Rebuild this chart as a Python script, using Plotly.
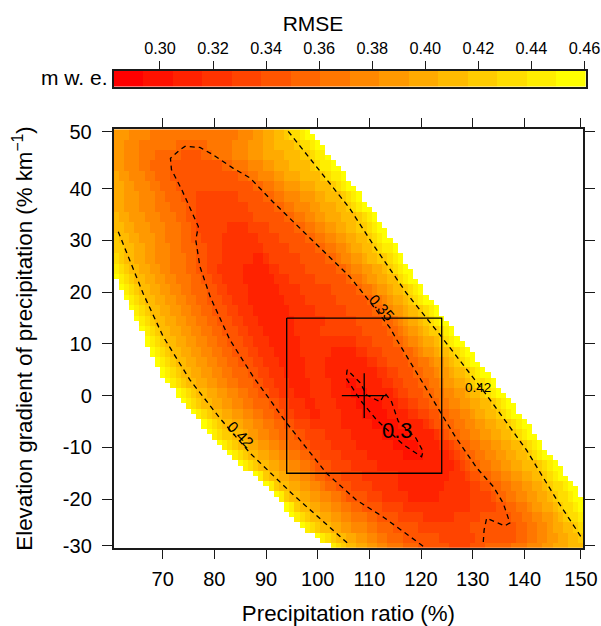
import plotly.graph_objects as go

W, H = 601, 626
RMSE_LOW, RMSE_HIGH, N_BANDS = 0.2826, 0.4605, 16
band_width = (RMSE_HIGH - RMSE_LOW) / N_BANDS

precip_ratio = list(range(61, 152))
elev_gradient = list(range(51, -30, -1))

# first and last sampled precipitation ratio in every gradient row (51 ... -29)
row_first_x = [61] * 29 + [62, 62, 63, 63, 64, 64, 65, 65, 66, 66, 67, 67, 67, 68, 68, 69, 69, 70, 70, 71, 72, 73, 73,
                           74, 75, 76, 77, 78, 78, 79, 80, 81, 82, 83, 84, 85, 86, 88, 89, 90, 91, 92, 93, 94, 94, 95,
                           96, 97, 98, 100, 101, 103]
row_last_x = [98, 99, 100, 101, 101, 102, 103, 104, 105, 105, 106, 107, 108, 108, 109, 110, 111, 111, 112, 113, 113,
              114, 115, 115, 116, 116, 117, 118, 118, 119, 120, 120, 121, 122, 123, 123, 124, 125, 126, 126, 127, 128,
              129, 130, 130, 131, 132, 133, 134, 134, 135, 136, 137, 138, 138, 139, 140, 141, 141, 142, 143, 143,
              144, 145, 146, 147, 147, 148, 149, 150, 150, 151] + [151] * 9

# colour band read along each second gradient row, 51, 49, ... -29:
# the band at the row's left end, x where it drops one band, x where it rises one band
band_start = [10, 10, 10, 10, 11, 11, 11, 11, 12, 12, 13, 13, 14, 15, 16, 16, 16, 16, 16, 16, 16, 16, 16, 16, 16, 16,
              16, 16, 16, 16, 16, 16, 16, 16, 16, 16, 16, 16, 16, 16, 15]
band_drops = [
    [64, 68],
    [63, 66, 73],
    [63, 66, 69, 74],
    [63, 66, 68, 72],
    [62, 64, 67, 69, 72],
    [63, 65, 68, 70, 73],
    [63, 66, 69, 71, 74, 77],
    [63, 66, 69, 72, 75, 77],
    [62, 64, 67, 70, 73, 75, 77],
    [63, 65, 68, 71, 74, 76, 77, 83],
    [62, 64, 66, 69, 71, 74, 76, 78, 82],
    [63, 65, 67, 69, 72, 74, 77, 79, 82],
    [62, 63, 65, 67, 69, 72, 75, 77, 79, 82, 88],
    [62, 63, 64, 66, 68, 70, 72, 75, 77, 79, 81, 86],
    [62, 63, 64, 65, 67, 69, 71, 73, 76, 78, 80, 82, 86],
    [63, 64, 65, 66, 68, 70, 72, 74, 76, 79, 81, 83, 87],
    [64, 65, 66, 67, 69, 71, 73, 75, 77, 79, 82, 84, 87],
    [65, 66, 67, 68, 70, 72, 74, 76, 78, 80, 83, 85, 88],
    [66, 67, 68, 69, 71, 73, 75, 77, 79, 81, 84, 86, 89],
    [67, 68, 69, 70, 72, 74, 76, 78, 80, 82, 85, 87, 90],
    [68, 69, 70, 71, 73, 75, 77, 79, 81, 83, 86, 88, 91],
    [69, 70, 71, 72, 74, 76, 78, 80, 82, 84, 87, 89, 92, 103],
    [70, 71, 72, 73, 75, 77, 79, 81, 83, 85, 88, 90, 93, 102],
    [71, 72, 73, 74, 76, 78, 80, 82, 84, 87, 89, 91, 94, 102],
    [72, 73, 74, 75, 77, 79, 81, 83, 85, 88, 90, 92, 95, 103, 106],
    [74, 75, 76, 77, 79, 81, 83, 85, 87, 89, 91, 93, 96, 103, 107],
    [75, 76, 77, 78, 80, 82, 84, 86, 88, 91, 93, 95, 98, 104, 108],
    [77, 78, 79, 80, 82, 84, 86, 88, 90, 92, 94, 96, 99, 105, 109],
    [79, 80, 81, 82, 84, 86, 88, 90, 92, 94, 96, 99, 105, 111],
    [80, 81, 82, 84, 86, 87, 89, 91, 93, 96, 98, 102, 107, 113],
    [82, 83, 84, 85, 87, 89, 91, 93, 95, 97, 99, 103, 108, 115],
    [84, 85, 86, 87, 89, 91, 93, 95, 97, 99, 101, 105, 110, 117],
    [86, 87, 88, 89, 91, 93, 95, 97, 99, 100, 103, 107, 112],
    [89, 90, 90, 91, 93, 95, 97, 99, 100, 102, 105, 109, 116],
    [91, 92, 92, 93, 95, 97, 99, 101, 102, 104, 107, 111, 116],
    [93, 94, 94, 95, 97, 99, 101, 103, 105, 106, 110, 113, 118],
    [95, 96, 96, 97, 99, 101, 103, 105, 107, 109, 113, 117],
    [96, 97, 98, 99, 101, 103, 105, 107, 110, 112, 116, 121],
    [98, 99, 100, 101, 103, 105, 107, 110, 112, 115, 120],
    [101, 102, 103, 104, 106, 108, 110, 112, 114, 117, 124],
    [104, 105, 106, 108, 110, 112, 114, 117, 120, 126],
]
band_rises = [
    [85, 88, 90, 92, 94, 95, 97, 98],
    [79, 84, 87, 90, 92, 96, 97, 99, 100],
    [78, 80, 84, 87, 90, 94, 97, 99, 100, 102],
    [82, 84, 87, 90, 92, 95, 99, 100, 101, 103],
    [85, 87, 89, 92, 94, 97, 101, 102, 103, 105],
    [88, 90, 92, 94, 97, 100, 103, 104, 105, 106],
    [85, 90, 92, 94, 97, 100, 102, 105, 106, 107, 108],
    [87, 92, 94, 96, 99, 101, 104, 106, 107, 108, 109],
    [88, 94, 96, 98, 100, 102, 105, 108, 109, 110, 111],
    [87, 91, 96, 98, 100, 102, 104, 106, 108, 110, 111, 112],
    [89, 93, 98, 100, 102, 104, 106, 108, 110, 111, 112, 113],
    [90, 95, 100, 102, 104, 106, 107, 109, 111, 112, 113, 115],
    [90, 91, 97, 102, 104, 105, 107, 109, 110, 112, 114, 115, 116],
    [91, 93, 98, 104, 106, 107, 109, 111, 113, 114, 115, 116, 117],
    [92, 95, 100, 106, 107, 109, 110, 112, 114, 116, 116, 117, 118],
    [93, 97, 103, 108, 109, 111, 112, 114, 115, 117, 118, 119, 120],
    [94, 98, 104, 110, 111, 113, 114, 115, 117, 118, 119, 120, 121],
    [95, 100, 106, 111, 113, 114, 115, 117, 118, 120, 121, 122, 123],
    [96, 102, 108, 113, 115, 116, 117, 118, 120, 121, 122, 123, 124],
    [96, 101, 109, 114, 116, 117, 118, 120, 121, 122, 124, 125, 126],
    [97, 108, 111, 115, 117, 118, 120, 121, 123, 124, 125, 126, 127],
    [97, 108, 110, 113, 117, 119, 120, 121, 123, 124, 126, 127, 128, 129],
    [98, 110, 112, 114, 118, 120, 122, 123, 125, 126, 127, 128, 129, 130],
    [98, 112, 114, 116, 119, 121, 123, 124, 126, 127, 129, 130, 131, 132],
    [99, 108, 113, 115, 117, 120, 122, 124, 125, 127, 129, 130, 131, 133, 134],
    [99, 110, 115, 116, 118, 121, 123, 125, 127, 129, 130, 132, 133, 134, 135],
    [100, 113, 116, 118, 120, 122, 124, 126, 128, 130, 132, 134, 135, 136, 137],
    [101, 114, 118, 120, 122, 124, 126, 128, 130, 131, 133, 135, 136, 137, 138],
    [116, 121, 122, 123, 125, 127, 129, 131, 133, 135, 137, 138, 139, 140],
    [118, 123, 124, 125, 126, 128, 130, 132, 134, 136, 138, 139, 140, 141],
    [120, 124, 126, 127, 128, 130, 132, 134, 136, 138, 140, 141, 142, 143],
    [121, 126, 127, 128, 129, 131, 133, 135, 137, 139, 141, 142, 143, 144],
    [127, 128, 129, 130, 132, 134, 136, 138, 140, 143, 144, 145, 146],
    [126, 129, 130, 132, 134, 136, 138, 140, 142, 144, 145, 146, 147],
    [125, 130, 132, 134, 136, 138, 140, 142, 144, 145, 146, 148, 149],
    [124, 130, 134, 135, 137, 139, 141, 143, 145, 146, 147, 149, 150],
    [130, 135, 137, 139, 141, 142, 144, 146, 147, 148, 150, 151],
    [127, 132, 138, 140, 142, 144, 146, 147, 148, 149, 151],
    [130, 139, 141, 143, 145, 146, 148, 150, 151],
    [131, 139, 141, 143, 145, 147, 149, 151],
    [130, 133, 138, 141, 144, 146, 149],
]

# dashed contours as (ratio, gradient)
c030_x = [105.7, 105.5, 108.2, 111.4, 116.6, 120.1, 120.4, 119.0, 115.6, 114.3, 113.0, 112.1, 109.5, 108.2, 105.7]
c030_y = [5.0, 3.4, -0.8, -4.7, -9.5, -11.8, -10.8, -8.2, -5.0, -1.2, 0.5, -1.2, 0.1, 2.5, 5.0]
c035_x = [120.4, 112.6, 107.5, 101.7, 94.0, 87.5, 83.0, 79.2, 77.2, 76.4, 76.9, 73.7, 71.7, 71.5, 73.3, 74.3, 77.2,
          79.7, 83.6, 86.9, 91.3, 96.5, 102.9, 106.2, 109.5, 114.0, 115.3, 123.7, 126.6, 130.8, 134.0, 135.9, 137.2,
          136.2, 132.7, 132.2, 132.0]
c035_y = [-29.1, -23.4, -20.2, -15.0, -5.3, 3.7, 10.8, 19.1, 25.0, 30.1, 32.7, 39.8, 43.7, 45.9, 47.5, 48.2, 48.0,
          46.6, 44.0, 42.1, 37.5, 32.4, 26.2, 23.0, 18.9, 13.1, 10.8, -3.1, -7.9, -14.0, -17.6, -20.8, -24.6,
          -25.2, -23.7, -26.0, -28.9]
c042_low_x = [61.4, 63.3, 66.2, 70.1, 75.3, 81.1, 86.9, 95.3, 106.2]
c042_low_y = [31.7, 26.9, 19.8, 11.4, 3.0, -4.4, -11.1, -19.2, -28.9]
c042_up_x = [94.3, 101.1, 106.2, 110.8, 117.2, 123.7, 132.7, 140.4, 146.3, 151.1]
c042_up_y = [51.1, 42.7, 36.2, 29.1, 19.8, 11.7, 0.1, -10.5, -20.2, -27.5]

box_x = [94, 124, 124, 94, 94]
box_y = [15, 15, -15, -15, 15]
best_x = [109]
best_y = [0]

x_tick_vals = [70, 80, 90, 100, 110, 120, 130, 140, 150.95]
x_tick_text = ["70", "80", "90", "100", "110", "120", "130", "140", "150"]
y_tick_vals = [51.06, 40, 30, 20, 10, 0, -10, -20, -29.0]
y_tick_text = ["50", "40", "30", "20", "10", "0", "-10", "-20", "-30"]
bar_tick_vals = [0.30, 0.32, 0.34, 0.36, 0.38, 0.40, 0.42, 0.44, 0.46]
bar_tick_text = ["0.30", "0.32", "0.34", "0.36", "0.38", "0.40", "0.42", "0.44", "0.46"]

assert len(row_first_x) == 81 and len(row_last_x) == 81
assert len(band_start) == len(band_drops) == len(band_rises) == 41


def rmse(band):
    return RMSE_LOW + (band - 0.5) * band_width


z = []
for i, y in enumerate(elev_gradient):
    r = i // 2
    row = []
    for x in precip_ratio:
        if row_first_x[i] <= x <= row_last_x[i]:
            band = band_start[r] - sum(e <= x for e in band_drops[r]) + sum(e <= x for e in band_rises[r])
            row.append(rmse(max(1, min(16, band))))
        else:
            row.append(None)
    z.append(row)

scale = []
for k in range(N_BANDS):
    c = f"rgb(255,{round(255 * k / (N_BANDS - 1))},0)"
    scale += [[k / N_BANDS, c], [(k + 1) / N_BANDS, c]]

FONT = "Liberation Sans"
INK = "#1a1a1a"
dash = dict(color="black", width=1.3, dash="5px,4px")

fig = go.Figure()
fig.add_trace(go.Heatmap(x=precip_ratio, y=elev_gradient, z=z, colorscale=scale, zmin=RMSE_LOW, zmax=RMSE_HIGH,
                         showscale=False, hoverongaps=False))
for cx, cy in [(c030_x, c030_y), (c035_x, c035_y), (c042_low_x, c042_low_y), (c042_up_x, c042_up_y)]:
    fig.add_trace(go.Scatter(x=cx, y=cy, mode="lines", line=dash, showlegend=False))
fig.add_trace(go.Scatter(x=box_x, y=box_y, mode="lines", line=dict(color="black", width=1.3), showlegend=False))
fig.add_trace(go.Scatter(x=best_x, y=best_y, mode="markers", showlegend=False,
                         marker=dict(symbol="cross-thin", size=32, line=dict(color="black", width=1.3))))

bar_bands = list(range(1, N_BANDS + 1))
fig.add_trace(go.Heatmap(x=[rmse(b) for b in bar_bands], y=[0], z=[[rmse(b) for b in bar_bands]], colorscale=scale,
                         zmin=RMSE_LOW, zmax=RMSE_HIGH, showscale=False, xaxis="x2", yaxis="y2"))

fig.update_layout(
    width=W, height=H, margin=dict(l=0, r=0, t=0, b=0), autosize=False,
    paper_bgcolor="white", plot_bgcolor="white", showlegend=False,
    font=dict(family=FONT, color="black", size=16),
    title=dict(text="RMSE", x=313 / W, xanchor="center", y=1 - 24 / H, yanchor="middle", font=dict(size=21)),
    xaxis=dict(domain=[113.5 / W, 583.3 / W], range=[60.48, 151.4], showgrid=False, zeroline=False, automargin=False,
               showline=True, linecolor=INK, linewidth=1.5, mirror="ticks", ticks="outside", ticklen=10,
               tickwidth=1.3, tickcolor=INK, tickmode="array", tickvals=x_tick_vals, ticktext=x_tick_text,
               tickfont=dict(size=20), ticklabelstandoff=3,
               title=dict(text="Precipitation ratio (%)", font=dict(size=22.3), standoff=19)),
    yaxis=dict(domain=[1 - 547.7 / H, 1 - 129.3 / H], range=[-29.4, 51.5], showgrid=False, zeroline=False,
               automargin=False,
               showline=True, linecolor=INK, linewidth=1.5, mirror="ticks", ticks="outside", ticklen=10,
               tickwidth=1.3, tickcolor=INK, tickmode="array", tickvals=y_tick_vals, ticktext=y_tick_text,
               tickfont=dict(size=20), ticklabelstandoff=6,
               title=dict(text="Elevation gradient of precipitation (% km<sup>\u22121</sup>)", font=dict(size=22.3),
                          standoff=24)),
    xaxis2=dict(domain=[113.8 / W, 585.8 / W], range=[RMSE_LOW, RMSE_HIGH], anchor="y2", side="top",
                automargin=False,
                showgrid=False, zeroline=False, showline=True, linecolor=INK, linewidth=1.5, mirror=True,
                ticks="outside", ticklen=8, tickwidth=1.3, tickcolor=INK, tickmode="array",
                tickvals=bar_tick_vals, ticktext=bar_tick_text, tickfont=dict(size=16.3)),
    yaxis2=dict(domain=[1 - 86.7 / H, 1 - 70.7 / H], range=[-0.5, 0.5], anchor="x2", showgrid=False, zeroline=False,
                automargin=False,
                showline=True, linecolor=INK, linewidth=1.5, mirror=True, showticklabels=False, ticks=""),
    annotations=[
        dict(text="m w. e.", xref="paper", yref="paper", x=110 / W, y=1 - 78 / H, xanchor="right", yanchor="middle",
             showarrow=False, font=dict(size=21)),
        dict(text="0.35", x=112.4, y=17, showarrow=False, textangle=48, font=dict(size=15)),
        dict(text="0.42", x=85, y=-7.6, showarrow=False, textangle=45, font=dict(size=15.5)),
        dict(text="0.42", x=131, y=1.5, showarrow=False, font=dict(size=13.5)),
        dict(text="0.3", x=115.4, y=-6.8, showarrow=False, font=dict(size=22)),
    ],
)

fig.write_html("out.html", config={"displayModeBar": False}, post_script="document.body.style.margin='0';")
